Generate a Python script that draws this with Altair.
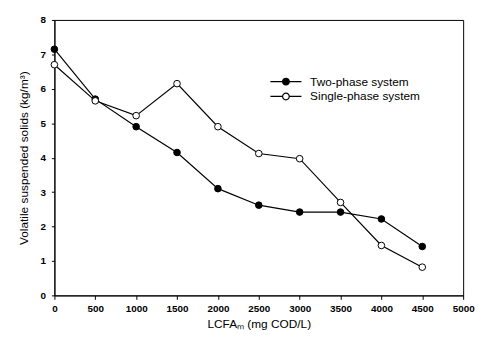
import altair as alt
import pandas as pd

lcfa = [0, 500, 1000, 1500, 2000, 2500, 3000, 3500, 4000, 4500]
two_phase = [7.15, 5.7, 4.9, 4.15, 3.1, 2.62, 2.42, 2.42, 2.22, 1.42]
single_phase = [6.7, 5.65, 5.22, 6.15, 4.9, 4.12, 3.97, 2.7, 1.45, 0.82]
series_names = ["Two-phase system", "Single-phase system"]

rows = []
for x, a, b in zip(lcfa, two_phase, single_phase):
    rows.append({"x": x, "y": a, "s": series_names[0]})
    rows.append({"x": x, "y": b, "s": series_names[1]})
df = pd.DataFrame(rows)

font = "Liberation Sans"

xenc = alt.X("x:Q", scale=alt.Scale(domain=[0, 5000]),
             axis=alt.Axis(values=list(range(0, 5001, 500)), format="d", title="LCFAₘ (mg COD/L)",
                           labelFlush=False, labelOverlap=False, grid=False, tickSize=4,
                           domainColor="black", tickColor="black", labelFontWeight="bold",
                           labelPadding=4, titlePadding=6))
yenc = alt.Y("y:Q", scale=alt.Scale(domain=[0, 8]),
             axis=alt.Axis(values=list(range(0, 9)), format="d", title="Volatile suspended solids (kg/m³)",
                           grid=False, tickSize=3, domainColor="black", tickColor="black",
                           labelOverlap=False, labelFontWeight="bold", labelPadding=6,
                           titlePadding=10))

base = alt.Chart(df).encode(x=xenc, y=yenc)

lines = base.mark_line(color="black", strokeWidth=1.2).encode(detail="s:N")

legend_symbol = "M-2.1,0H-0.45 M0.45,0H2.1 M-0.45,0A0.45,0.45 0 1,0 0.45,0A0.45,0.45 0 1,0 -0.45,0Z"

points = base.mark_point(filled=True, size=45, stroke="black", strokeWidth=1, opacity=1).encode(
    fill=alt.Fill("s:N", scale=alt.Scale(domain=series_names, range=["black", "white"]),
                  legend=alt.Legend(title=None, orient="none", legendX=226, legendY=54,
                                    symbolType=legend_symbol, labelFont=font, labelFontSize=12,
                                    labelColor="black", symbolStrokeColor="black",
                                    symbolSize=225, symbolStrokeWidth=1.2, rowPadding=0,
                                    labelOffset=16, symbolOpacity=1)),
    shape=alt.value("circle"))

chart = alt.layer(lines, points).properties(
    width=414, height=279,
    autosize=alt.AutoSizeParams(type="none"),
    padding={"left": 47, "top": 10, "right": 12, "bottom": 36},
).configure_view(stroke="black", strokeWidth=1).configure_axis(
    labelFont=font, titleFont=font, labelFontSize=10, titleFontSize=12,
    labelColor="black", titleColor="black", titleFontWeight="normal"
)

chart.save("out.html", embed_options={"renderer": "svg", "actions": False})
